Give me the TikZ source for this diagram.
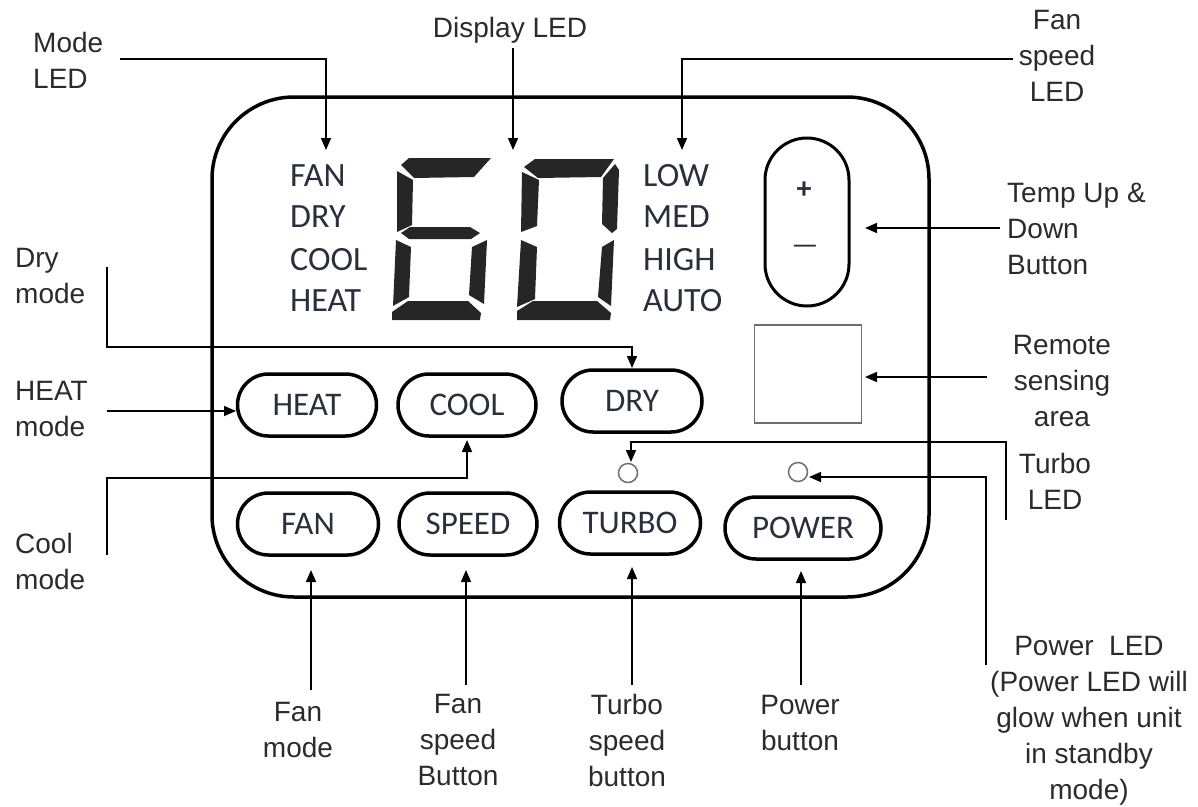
\documentclass[tikz,border=0pt]{standalone}
\usepackage{fontspec}
\setmainfont{Liberation Sans}
\newfontfamily\calib{Carlito}
\usetikzlibrary{arrows.meta}
\definecolor{lbl}{HTML}{2B2B2B}
\definecolor{ptxt}{HTML}{27303B}
\definecolor{seg}{HTML}{262626}
\definecolor{ledgray}{HTML}{6E6E6E}
\begin{document}
\begin{tikzpicture}[x=1pt,y=-1pt,
  lab/.style={font=\fontsize{28}{36}\selectfont, text=lbl, inner sep=0, align=center},
  labl/.style={lab, align=left, anchor=west},
  ptext/.style={font=\calib\fontsize{34}{40}\selectfont, text=ptxt, inner sep=0, anchor=base west},
  btn/.style={draw, line width=3.5pt, rounded corners=31pt, minimum height=62pt, font=\calib\fontsize{33}{38}\selectfont, text=ptxt, inner sep=0},
  led/.style={circle, draw=ledgray, line width=1.5pt, minimum size=19pt, inner sep=0},
  conn/.style={line width=1.6pt},
  arr/.style={conn, -{Triangle[length=12pt,width=10pt]}},
  segf/.style={fill=seg}
]
\useasboundingbox (0,0) rectangle (1198,806);

% panel
\node[draw, line width=3.5pt, rounded corners=82pt, minimum width=717pt, minimum height=500pt, inner sep=0] (panel) at (570.5,347) {};

% mode LED column
\node[ptext] (tfan)  at (290,186) {FAN};
\node[ptext] (tdry)  at (290,227) {DRY};
\node[ptext] (tcool) at (290,270) {COOL};
\node[ptext] (theat) at (290,311) {HEAT};
% fan speed column
\node[ptext] (tlow)  at (643,186) {LOW};
\node[ptext] (tmed)  at (643,227) {MED};
\node[ptext] (thigh) at (643,270) {HIGH};
\node[ptext] (tauto) at (643,311) {AUTO};

% seven segment digit 6
\fill[segf] (401,165) -- (409,158) -- (491,158) -- (474,177) -- (414,178) -- cycle;
\fill[segf] (397,171) -- (413,180) -- (412,225) -- (397,232) -- cycle;
\fill[segf] (401,233) -- (410,227) -- (470,227) -- (480,233) -- (471,239) -- (409,239) -- cycle;
\fill[segf] (396,240) -- (411,247) -- (409,297) -- (393,306) -- cycle;
\fill[segf] (472,247) -- (487,240) -- (484,304) -- (469,295) -- cycle;
\fill[segf] (392,312) -- (408,301) -- (468,301) -- (481,313) -- (480,320) -- (392,320) -- cycle;
% seven segment digit 0
\fill[segf] (524,167) -- (535,159) -- (614,159) -- (601,177) -- (538,178) -- cycle;
\fill[segf] (522,172) -- (539,180) -- (537,226) -- (521,232) -- cycle;
\fill[segf] (615,164) -- (619,170) -- (617,229) -- (612,233) -- (602,224) -- (603,178) -- cycle;
\fill[segf] (521,240) -- (537,247) -- (535,299) -- (517,307) -- cycle;
\fill[segf] (602,247) -- (614,240) -- (611,306) -- (598,297) -- cycle;
\fill[segf] (517,311) -- (533,301) -- (597,301) -- (611,313) -- (610,320) -- (517,320) -- cycle;

% up/down button
\node[draw, line width=3pt, rounded corners=42pt, minimum width=84pt, minimum height=168pt, inner sep=0] (updn) at (807,222) {};
\node[font=\calib\bfseries\fontsize{30}{32}\selectfont, text=ptxt, inner sep=0] (plus) at (804,190) {+};
\node[font=\calib\fontsize{30}{32}\selectfont, text=ptxt, inner sep=0] (minus) at (805,250) {—};

% remote sensing area
\node[draw=ledgray, line width=1.8pt, minimum width=107pt, minimum height=98pt, inner sep=0] (remote) at (808,374) {};

% buttons
\node[btn, minimum width=139pt] (bheat)  at (307,405) {HEAT};
\node[btn, minimum width=138pt] (bcool)  at (467,405) {COOL};
\node[btn, minimum width=140pt] (bdry)   at (632,401) {DRY};
\node[btn, minimum width=141pt] (bfan)   at (308,524) {FAN};
\node[btn, minimum width=138pt] (bspeed) at (468,524) {SPEED};
\node[btn, minimum width=141pt] (bturbo) at (630,523) {TURBO};
\node[btn, minimum width=156pt] (bpower) at (803,528) {POWER};

% LEDs
\node[led] (tled) at (628,473) {};
\node[led] (pled) at (798,472) {};

% labels
\node[labl] (lmode) at (33,60) {Mode\\LED};
\node[lab] (ldisp) at (510,30) {Display LED};
\node[lab] (lfsled) at (1057,56) {Fan\\speed\\LED};
\node[labl] (ltemp) at (1007,229) {Temp Up \&\\Down\\Button};
\node[lab] (lremote) at (1062,381) {Remote\\sensing\\area};
\node[lab] (lturbo) at (1055,481) {Turbo\\LED};
\node[lab] (lpower) at (1089,721) {Power~~LED\\(Power LED will\\glow when unit\\in standby\\mode)};
\node[labl] (ldry) at (15,276) {Dry\\mode};
\node[labl] (lheat) at (15,409) {HEAT\\mode};
\node[labl] (lcoolm) at (15,561) {Cool\\mode};
\node[lab] (lfanm) at (298,730) {Fan\\mode};
\node[lab] (lfsb) at (458,740) {Fan\\speed\\Button};
\node[lab] (ltsb) at (627,740) {Turbo\\speed\\button};
\node[lab] (lpwb) at (800,723) {Power\\button};

% connector coordinates
\coordinate (mA) at (120,59);   \coordinate (mB) at (326,150);
\coordinate (dA) at (513,48);   \coordinate (dB) at (513,150);
\coordinate (fA) at (1013,59);  \coordinate (fB) at (682,150);
\coordinate (tA) at (1000,228); \coordinate (tB) at (865,228);
\coordinate (rA) at (987,377);  \coordinate (rB) at (865,377);
\coordinate (uA) at (1006,520); \coordinate (uM) at (1006,442); \coordinate (uB) at (631,462);
\coordinate (pA) at (986,665);  \coordinate (pM) at (986,477);  \coordinate (pB) at (809,477);
\coordinate (yA) at (107,267);  \coordinate (yM) at (107,347);  \coordinate (yB) at (632,368);
\coordinate (hA) at (107,411);  \coordinate (hB) at (236,411);
\coordinate (cA) at (107,555);  \coordinate (cM) at (107,478);  \coordinate (cB) at (467,440);
\coordinate (b1A) at (311,690); \coordinate (b1B) at (311,570);
\coordinate (b2A) at (466,685); \coordinate (b2B) at (466,570);
\coordinate (b3A) at (632,685); \coordinate (b3B) at (632,567);
\coordinate (b4A) at (801,685); \coordinate (b4B) at (801,571);

\draw[arr] (mA) -- (mB |- mA) -- (mB);
\draw[arr] (dA) -- (dB);
\draw[arr] (fA) -- (fB |- fA) -- (fB);
\draw[arr] (tA) -- (tB);
\draw[arr] (rA) -- (rB);
\draw[arr] (uA) -- (uM) -- (uB |- uM) -- (uB);
\draw[arr] (pA) -- (pM) -- (pB);
\draw[arr] (yA) -- (yM) -- (yB |- yM) -- (yB);
\draw[arr] (hA) -- (hB);
\draw[arr] (cA) -- (cM) -- (cB |- cM) -- (cB);
\draw[arr] (b1A) -- (b1B);
\draw[arr] (b2A) -- (b2B);
\draw[arr] (b3A) -- (b3B);
\draw[arr] (b4A) -- (b4B);
\end{tikzpicture}
\end{document}
